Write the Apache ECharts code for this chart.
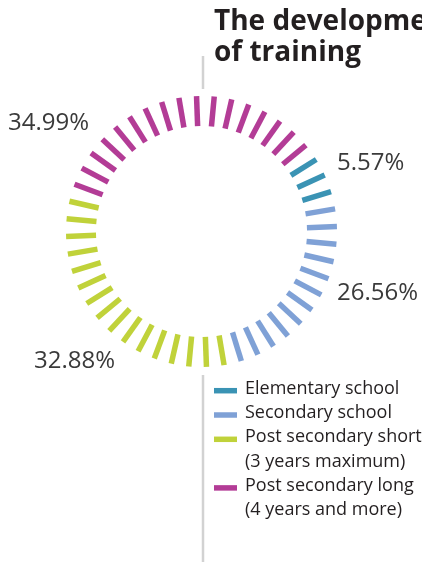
<!DOCTYPE html>
<html>
<head>
<meta charset="utf-8">
<title>The development of training</title>
<script src="https://cdn.jsdelivr.net/npm/echarts@6/dist/echarts.min.js"></script>
<style>
  html, body { margin: 0; padding: 0; background: #ffffff; }
  #chart { width: 422px; height: 562px; }
</style>
</head>
<body>
<div id="chart"></div>
<script>
// Share of each level of training (percent)
const categories = [
  'Elementary school',
  'Secondary school',
  'Post secondary short\n(3 years maximum)',
  'Post secondary long\n(4 years and more)'
];
const shares = [5.57, 26.56, 32.88, 34.99];
const colors = ['#3a93b4', '#7fa1d6', '#c0d23a', '#b33c96'];

// Value labels around the ring: [left x, middle y]
const labelPos = [[337, 163], [337, 293], [34, 361], [8, 123.5]];

// Ring geometry
const FONT = '"Open Sans", "Noto Sans", sans-serif';
const cx = 201.5, cy = 231.5, outerR = 135.5;
const tickCount = 48;             // dashes around the full circle
const firstTick = -2.1;           // first dash, degrees clockwise from 12 o'clock
const dataStart = 54.4;           // where the first share begins, same convention
const step = 360 / tickCount;
const span = step * (tickCount - 1);

// Colour stops for the gauge axis, expressed in gauge progress (0..1)
const total = shares.reduce((a, b) => a + b, 0);
const norm = a => ((a - firstTick) % 360 + 360) % 360 / span;
const stops = [];
let acc = dataStart;
let wrapColor = colors[colors.length - 1];
shares.forEach((v, i) => {
  const from = acc;
  acc += v / total * 360;
  const p0 = norm(from), p1 = norm(acc);
  if (p1 < p0) wrapColor = colors[i];
  stops.push([Math.min(p1, 1), colors[i]]);
});
stops.sort((a, b) => a[0] - b[0]);
stops.push([1, wrapColor]);

const chart = echarts.init(document.getElementById('chart'), null, { renderer: 'canvas' });

const graphics = [];
// thin guide line above and below the ring
graphics.push({
  type: 'line', shape: { x1: 203, y1: 56, x2: 203, y2: 89 },
  style: { stroke: '#d2d2d2', lineWidth: 2.5 }, silent: true
});
graphics.push({
  type: 'line', shape: { x1: 203, y1: 375, x2: 203, y2: 562 },
  style: { stroke: '#d2d2d2', lineWidth: 2.5 }, silent: true
});
// value labels
shares.forEach((v, i) => {
  graphics.push({
    type: 'text', x: labelPos[i][0], y: labelPos[i][1],
    style: {
      text: v.toFixed(2) + '%', fill: '#3a3a3a',
      font: '24px ' + FONT, align: 'left', verticalAlign: 'middle'
    }
  });
});
// legend
const legendLineH = 24.3, legendTop = 388.7;
let line = 0;
categories.forEach((name, i) => {
  const mid = legendTop + line * legendLineH;
  graphics.push({
    type: 'rect', shape: { x: 214, y: mid + 2 - 2.75, width: 23, height: 5.5 },
    style: { fill: colors[i] }
  });
  graphics.push({
    type: 'text', x: 245, y: mid - legendLineH / 2,
    style: {
      text: name, fill: '#231f20', font: '18px ' + FONT,
      lineHeight: legendLineH, align: 'left', verticalAlign: 'top'
    }
  });
  line += name.split('\n').length;
});

chart.setOption({
  backgroundColor: '#ffffff',
  animation: false,
  title: {
    text: 'The development\nof training',
    left: 214, top: 5.9, padding: 0,
    textStyle: {
      fontFamily: FONT, fontSize: 28, fontWeight: 'bold',
      color: '#231f20', lineHeight: 31.6
    }
  },
  series: [{
    type: 'gauge',
    center: [cx, cy],
    radius: outerR,
    startAngle: 90 - firstTick,
    endAngle: 90 - firstTick - span,
    clockwise: true,
    min: 0, max: 100,
    splitNumber: tickCount - 1,
    axisLine: { show: false, lineStyle: { width: 0, color: stops } },
    splitLine: {
      show: true, length: 30, distance: 0,
      lineStyle: { color: 'auto', width: 5.5 }
    },
    axisTick: { show: false },
    axisLabel: { show: false },
    pointer: { show: false },
    anchor: { show: false },
    progress: { show: false },
    title: { show: false },
    detail: { show: false },
    data: [{ value: 0, name: '' }]
  }],
  graphic: graphics
});
</script>
</body>
</html>
